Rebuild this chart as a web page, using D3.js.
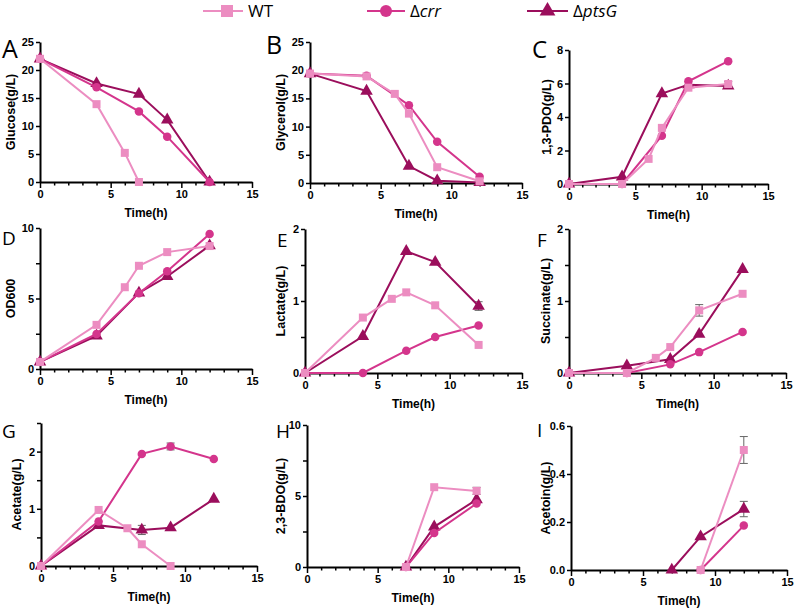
<!DOCTYPE html>
<html>
<head>
<meta charset="utf-8">
<script src="https://cdn.jsdelivr.net/npm/d3@7"></script>
<style>
  body { margin: 0; background: #fff; }
  svg { display: block; }
  .tick text { font-family: "Liberation Sans", Arial, sans-serif; font-weight: bold; font-size: 11px; fill: #000; }
  .axis path, .axis line { stroke: #000; }
</style>
</head>
<body>
<svg id="chart" width="794" height="610"></svg>
<script>
// sampling times (h)
var tWT = [0, 4, 6, 7, 9, 12];
var tMut = [0, 4, 7, 9, 12];
var tAcetateWT = [0, 4, 6, 7, 9];
var tBdo = [7, 9, 12];
var tAcetoinWT = [9, 12];
var tAcetoinPtsG = [7, 9, 12];

var seriesNames = ['WT', 'crr', 'ptsG'];
var seriesColors = ['#ec8dc1', '#d4358c', '#9b0e5c'];

// A glucose
var glucoseWT = [22, 13.9, 5.2, 0];
var tGlucoseWT = [0, 4, 6, 7];
var glucoseCrr = [22, 16.9, 12.6, 8.1, 0];
var glucosePtsG = [22, 17.6, 15.7, 11.1, 0];
// B glycerol
var glycerolWT = [19.4, 18.9, 15.8, 12.3, 2.8, 0.3];
var glycerolCrr = [19.4, 19.0, 13.8, 7.3, 1.1];
var glycerolPtsG = [19.4, 16.3, 3.0, 0.4, 0.1];
// C 1,3-PDO
var pdoWT = [0, 0, 1.5, 3.35, 5.75, 5.97];
var pdoCrr = [0, 0, 2.88, 6.13, 7.33];
var pdoPtsG = [0, 0.43, 5.4, 5.93, 5.85];
var pdoErrWT = [0, 0, 0, 0, 0, 0.15];
var pdoErrPtsG = [0, 0, 0, 0, 0, 0.15];
// D OD600
var odWT = [0.5, 3.13, 5.8, 7.32, 8.29, 8.72];
var odCrr = [0.5, 2.49, 5.38, 6.93, 9.58];
var odPtsG = [0.5, 2.35, 5.4, 6.56, 8.75];
// E lactate
var lactateWT = [0, 0.77, 1.03, 1.12, 0.94, 0.39];
var lactateCrr = [0, 0, 0.31, 0.5, 0.66];
var lactatePtsG = [0, 0.51, 1.69, 1.54, 0.93];
var lactateErrPtsG = [0, 0, 0, 0, 0.06];
// F succinate
var succinateWT = [0, 0, 0.21, 0.36, 0.87, 1.1];
var succinateCrr = [0, 0, 0.12, 0.29, 0.57];
var succinatePtsG = [0, 0.1, 0.19, 0.54, 1.44];
var succinateErrWT = [0, 0, 0, 0, 0.08, 0];
// G acetate
var acetateWT = [0, 0.98, 0.66, 0.38, 0];
var acetateCrr = [0, 0.78, 1.96, 2.09, 1.87];
var acetatePtsG = [0, 0.71, 0.63, 0.67, 1.17];
var acetateErrCrr = [0, 0, 0, 0.06, 0];
var acetateErrPtsG = [0, 0, 0.08, 0, 0];
// H 2,3-BDO
var bdoWT = [0, 5.62, 5.36];
var bdoCrr = [0, 2.4, 4.47];
var bdoPtsG = [0, 2.83, 4.75];
var bdoErrWT = [0, 0, 0.25];
// I acetoin
var acetoinWT = [0, 0.5];
var acetoinCrr = [0, 0.185];
var acetoinPtsG = [0, 0.139, 0.254];
var acetoinErrWT = [0, 0.056];
var acetoinErrPtsG = [0, 0, 0.032];

var xTickMajor = [0, 5, 10, 15];

function zip(t, v, e) {
  return t.map(function(d, i) { return {t: d, v: v[i], e: e ? e[i] : 0}; });
}

var panels = [
  {letter: 'A', title: 'Glucose(g/L)', dom: [0, 25], ticks: [0, 5, 10, 15, 20, 25], labels: [0, 5, 10, 15, 20, 25], fmt: d3.format('d'),
   box: [40, 252, 42, 182], tx: 10, lx: 2, ly: 58, ls: 25,
   series: [zip(tGlucoseWT, glucoseWT), zip(tMut, glucoseCrr), zip(tMut, glucosePtsG)]},
  {letter: 'B', title: 'Glycerol(g/L)', dom: [0, 25], ticks: [0, 5, 10, 15, 20, 25], labels: [0, 5, 10, 15, 20, 25], fmt: d3.format('d'),
   box: [310, 522, 42, 183], tx: 280, lx: 266, ly: 54, ls: 25,
   series: [zip(tWT, glycerolWT), zip(tMut, glycerolCrr), zip(tMut, glycerolPtsG)]},
  {letter: 'C', title: '1,3-PDO(g/L)', dom: [0, 8], ticks: [0, 2, 4, 6, 8], labels: [0, 2, 4, 6, 8], fmt: d3.format('d'),
   box: [569, 768, 50, 184], tx: 546, lx: 532, ly: 58, ls: 24,
   series: [zip(tWT, pdoWT, pdoErrWT), zip(tMut, pdoCrr), zip(tMut, pdoPtsG, pdoErrPtsG)]},
  {letter: 'D', title: 'OD600', dom: [0, 10], ticks: [0, 2.5, 5, 7.5, 10], labels: [0, 5, 10], fmt: d3.format('d'),
   box: [40, 252, 228, 369], tx: 10, lx: 2, ly: 245, ls: 19,
   series: [zip(tWT, odWT), zip(tMut, odCrr), zip(tMut, odPtsG)]},
  {letter: 'E', title: 'Lactate(g/L)', dom: [0, 2], ticks: [0, 0.5, 1, 1.5, 2], labels: [0, 1, 2], fmt: d3.format('d'),
   box: [305, 522, 229, 373], tx: 280, lx: 277, ly: 247, ls: 19,
   series: [zip(tWT, lactateWT), zip(tMut, lactateCrr), zip(tMut, lactatePtsG, lactateErrPtsG)]},
  {letter: 'F', title: 'Succinate(g/L)', dom: [0, 2], ticks: [0, 0.5, 1, 1.5, 2], labels: [0, 1, 2], fmt: d3.format('d'),
   box: [569, 786, 229, 373], tx: 545, lx: 537, ly: 247, ls: 19,
   series: [zip(tWT, succinateWT, succinateErrWT), zip(tMut, succinateCrr), zip(tMut, succinatePtsG)]},
  {letter: 'G', title: 'Acetate(g/L)', dom: [0, 2.5], ticks: [0, 0.5, 1, 1.5, 2, 2.5], labels: [0, 1, 2], fmt: d3.format('d'),
   box: [41, 257, 423, 566], tx: 16, lx: 2, ly: 438, ls: 19,
   series: [zip(tAcetateWT, acetateWT), zip(tMut, acetateCrr, acetateErrCrr), zip(tMut, acetatePtsG, acetateErrPtsG)]},
  {letter: 'H', title: '2,3-BDO(g/L)', dom: [0, 10], ticks: [0, 2.5, 5, 7.5, 10], labels: [0, 5, 10], fmt: d3.format('d'),
   box: [307, 519, 425, 567], tx: 280, lx: 276, ly: 438, ls: 19,
   series: [zip(tBdo, bdoWT, bdoErrWT), zip(tBdo, bdoCrr), zip(tBdo, bdoPtsG)]},
  {letter: 'I', title: 'Acetoin(g/L)', dom: [0, 0.6], ticks: [0, 0.2, 0.4, 0.6], labels: [0, 0.2, 0.4, 0.6], fmt: d3.format('.1f'),
   box: [571, 787, 426, 570], tx: 545, lx: 537, ly: 437, ls: 19,
   series: [zip(tAcetoinWT, acetoinWT, acetoinErrWT), zip(tAcetoinWT, acetoinCrr), zip(tAcetoinPtsG, acetoinPtsG, acetoinErrPtsG)]}
];

var markerSize = [8, 8.5, 9.5];

var svg = d3.select('#chart');

function drawMarker(g, kind, x, y, size, color) {
  if (kind === 0) {
    g.append('rect').attr('x', x - size / 2).attr('y', y - size / 2)
      .attr('width', size).attr('height', size).attr('fill', color);
  } else if (kind === 1) {
    g.append('circle').attr('cx', x).attr('cy', y).attr('r', size / 2).attr('fill', color);
  } else {
    g.append('path').attr('transform', 'translate(' + x + ',' + y + ')')
      .attr('d', d3.symbol().type(d3.symbolTriangle).size(size * size * 0.75)).attr('fill', color);
  }
}

panels.forEach(function(p) {
  var x = d3.scaleLinear().domain([0, 15]).range([p.box[0], p.box[1]]);
  var y = d3.scaleLinear().domain(p.dom).range([p.box[3], p.box[2]]);
  var g = svg.append('g');

  // minor x ticks
  g.append('g').attr('class', 'axis')
    .attr('transform', 'translate(0,' + p.box[3] + ')')
    .call(d3.axisBottom(x).tickValues(d3.range(1, 15).filter(function(d) { return d % 5; }))
      .tickSize(3.5).tickFormat(''))
    .call(function(a) { a.select('.domain').remove(); a.selectAll('line').attr('stroke-width', 1.5); });

  g.append('g').attr('class', 'axis')
    .attr('transform', 'translate(0,' + p.box[3] + ')')
    .call(d3.axisBottom(x).tickValues(xTickMajor).tickSize(6).tickSizeOuter(0).tickPadding(2))
    .call(function(a) {
      a.select('.domain').attr('stroke-width', 2);
      a.selectAll('line').attr('stroke-width', 1.5);
    });

  g.append('g').attr('class', 'axis')
    .attr('transform', 'translate(' + p.box[0] + ',0)')
    .call(d3.axisLeft(y).tickValues(p.ticks).tickSize(4).tickSizeOuter(0).tickPadding(2)
      .tickFormat(function(d) { return p.labels.indexOf(d) >= 0 ? p.fmt(d) : ''; }))
    .call(function(a) {
      a.select('.domain').attr('stroke-width', 2);
      a.selectAll('line').attr('stroke-width', 1.5);
    });

  g.append('text')
    .attr('x', (p.box[0] + p.box[1]) / 2).attr('y', p.box[3] + 35)
    .attr('text-anchor', 'middle')
    .style('font-family', '"Liberation Sans", Arial, sans-serif')
    .style('font-weight', 'bold').style('font-size', '12px')
    .text('Time(h)');

  g.append('text')
    .attr('transform', 'translate(' + (p.tx + 4.5) + ',' + ((p.box[2] + p.box[3]) / 2) + ') rotate(-90)')
    .attr('text-anchor', 'middle')
    .style('font-family', '"Liberation Sans", Arial, sans-serif')
    .style('font-weight', 'bold').style('font-size', '12.5px')
    .text(p.title);

  g.append('text')
    .attr('x', p.lx).attr('y', p.ly)
    .style('font-family', '"Open Sans", sans-serif')
    .style('font-size', p.ls + 'px')
    .text(p.letter);

  var line = d3.line().x(function(d) { return x(d.t); }).y(function(d) { return y(d.v); });

  // draw ptsG first, WT on top
  [2, 1, 0].forEach(function(k) {
    var s = p.series[k];
    var sg = g.append('g');
    s.filter(function(d) { return d.e > 0; }).forEach(function(d) {
      var eg = sg.append('g').attr('stroke', '#666').attr('stroke-width', 1);
      eg.append('line').attr('x1', x(d.t)).attr('x2', x(d.t)).attr('y1', y(d.v - d.e)).attr('y2', y(d.v + d.e));
      eg.append('line').attr('x1', x(d.t) - 4).attr('x2', x(d.t) + 4).attr('y1', y(d.v - d.e)).attr('y2', y(d.v - d.e));
      eg.append('line').attr('x1', x(d.t) - 4).attr('x2', x(d.t) + 4).attr('y1', y(d.v + d.e)).attr('y2', y(d.v + d.e));
    });
    sg.append('path').datum(s).attr('d', line)
      .attr('fill', 'none').attr('stroke', seriesColors[k]).attr('stroke-width', 2);
    s.forEach(function(d) {
      drawMarker(sg, k, x(d.t), y(d.v), markerSize[k], seriesColors[k]);
    });
  });
});

// legend
var legendX = [203, 367, 527];
var legendW = [40, 38, 41];
var lg = svg.append('g');
seriesNames.forEach(function(name, k) {
  var x0 = legendX[k];
  lg.append('line').attr('x1', x0).attr('x2', x0 + legendW[k]).attr('y1', 11).attr('y2', 11)
    .attr('stroke', seriesColors[k]).attr('stroke-width', 2);
  drawMarker(lg, k, x0 + legendW[k] / 2 + (k === 0 ? 4 : 0), 11, 12, seriesColors[k]);
  var t = lg.append('text').attr('x', x0 + legendW[k] + 5).attr('y', 17)
    .style('font-family', '"Open Sans", sans-serif').style('font-size', '17px');
  if (k === 0) {
    t.text('WT');
  } else {
    t.append('tspan').text('\u0394');
    t.append('tspan').style('font-style', 'italic').text(name);
  }
});
</script>
</body>
</html>
